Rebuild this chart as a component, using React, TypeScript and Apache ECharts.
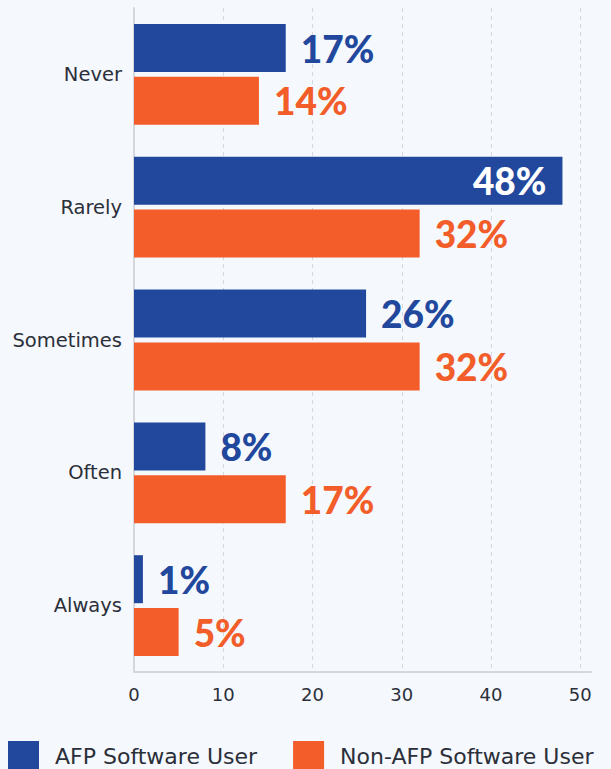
import React, { useEffect, useRef } from "react";
import * as echarts from "echarts";

const categories = ["Never", "Rarely", "Sometimes", "Often", "Always"];
const afpValues = [17, 48, 26, 8, 1];
const nonAfpValues = [14, 32, 32, 17, 5];
const seriesNames = ["AFP Software User", "Non-AFP Software User"];
const xTicks = [0, 10, 20, 30, 40, 50];

const BLUE = "#22489e";
const ORANGE = "#f25d29";

export default function App() {
  const ref = useRef<HTMLDivElement>(null);
  useEffect(() => {
    if (!ref.current) return;
    const chart = echarts.init(ref.current, null, { renderer: "svg" });
    const labelFont = { fontFamily: "Lato", fontWeight: 900 as any, fontSize: 37 };
    const mkData = (vals: number[], color: string, insideAbove: number) =>
      vals.map((v) => ({
        value: v,
        label:
          v >= insideAbove
            ? { position: "insideRight", color: "#ffffff", distance: 16 }
            : { position: "right", color, distance: 15 },
      }));
    chart.setOption({
      animation: false,
      backgroundColor: "#f5f8fc",
      grid: { left: 134, right: 20, top: 8, bottom: 97 },
      legend: {
        left: 8,
        top: 741,
        padding: 0,
        itemWidth: 31,
        itemHeight: 31,
        itemGap: 36,
        icon: "rect",
        textStyle: { fontFamily: "DejaVu Sans", fontSize: 22, color: "#2b2f3a", padding: [0, 0, 0, 11] },
        data: seriesNames,
      },
      xAxis: {
        type: "value",
        min: 0,
        max: 51.2,
        interval: 10,
        axisLine: { show: true, lineStyle: { color: "#d4d8de", width: 2 } },
        axisTick: { show: false },
        splitLine: { show: true, showMaxLine: false, lineStyle: { color: "#d4d8de", type: [4, 4] } },
        axisLabel: {
          fontFamily: "DejaVu Sans",
          fontSize: 18,
          color: "#2b2f3a",
          margin: 13,
          showMaxLabel: false,
          formatter: (v: number) => (xTicks.includes(v) ? String(v) : ""),
        },
      },
      yAxis: {
        type: "category",
        inverse: true,
        data: categories,
        axisLine: { show: true, lineStyle: { color: "#d4d8de", width: 2 } },
        axisTick: { show: false },
        axisLabel: { fontFamily: "DejaVu Sans", fontSize: 19.5, color: "#2b2f3a", margin: 12 },
      },
      series: [
        {
          name: seriesNames[0],
          type: "bar",
          data: mkData(afpValues, BLUE, 40),
          itemStyle: { color: BLUE },
          barWidth: 48,
          barGap: "10%",
          label: { show: true, formatter: "{c}%", ...labelFont },
        },
        {
          name: seriesNames[1],
          type: "bar",
          data: mkData(nonAfpValues, ORANGE, 100),
          itemStyle: { color: ORANGE },
          barWidth: 48,
          barGap: "10%",
          label: { show: true, formatter: "{c}%", ...labelFont },
        },
      ],
    });
    return () => chart.dispose();
  }, []);
  return (
    <div
      ref={ref}
      style={{ position: "fixed", left: 0, top: 0, width: 611, height: 769 }}
    />
  );
}
